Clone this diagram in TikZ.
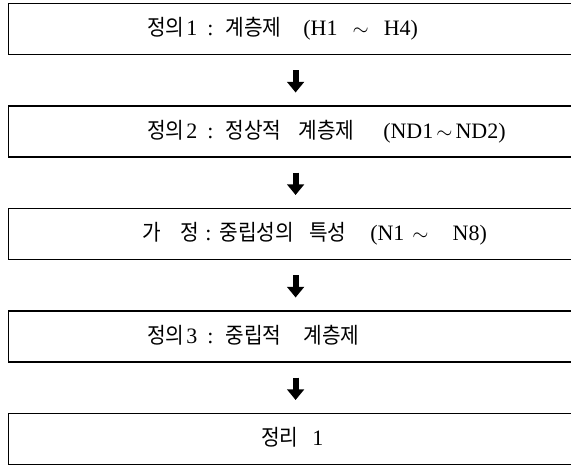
\documentclass[tikz,border=0pt]{standalone}
\usepackage{fontspec}
\setmainfont{Liberation Serif}
\newfontfamily\kr[FakeStretch=0.92]{Noto Sans CJK KR}
\usetikzlibrary{arrows.meta}
\tikzset{
  box/.style={draw, line width=1.2pt, minimum width=574pt, minimum height=51pt, inner sep=0pt, anchor=north west},
  lbl/.style={inner sep=0pt, anchor=base west, font=\fontsize{22}{26}\selectfont},
  fat/.style={line width=6pt, -{Triangle[width=16.6pt,length=10.6pt]}, shorten <=15pt, shorten >=13pt},
}
\newcommand{\K}[1]{{\kr\fontsize{22}{24}\selectfont #1}}
\newcommand{\hs}[1]{\hspace*{#1pt}}
\begin{document}
\begin{tikzpicture}[x=1pt,y=-1pt]
\useasboundingbox (0,0) rectangle (571,465);
\node[box] (b1) at (8,3) {};
\node[box] (b2) at (8,105.5) {};
\node[box] (b3) at (8,208) {};
\node[box] (b4) at (8,310.5) {};
\node[box] (b5) at (8,413) {};
\node[lbl] (t1) at (147,36) {\K{정의}\hs{2}1\hs{10}:\hs{12}\K{계층제}\hs{22}(H1\hs{15}$\sim$\hs{15}H4)};
\node[lbl] (t2) at (147,138.5) {\K{정의}\hs{2}2\hs{10}:\hs{12}\K{정상적}\hs{17}\K{계층제}\hs{29}(ND1\hs{3}$\sim$\hs{3}ND2)};
\node[lbl] (t3) at (142,241) {\K{가}\hs{20}\K{정}\hs{6}:\hs{8}\K{중립성의}\hs{15}\K{특성}\hs{24}(N1\hs{8}$\sim$\hs{24}N8)};
\node[lbl] (t4) at (147,343.5) {\K{정의}\hs{2}3\hs{10}:\hs{12}\K{중립적}\hs{22}\K{계층제}};
\node[lbl] (t5) at (261,446) {\K{정리}\hs{14}1};
\draw[fat] (b1.south) -- (b2.north);
\draw[fat] (b2.south) -- (b3.north);
\draw[fat] (b3.south) -- (b4.north);
\draw[fat] (b4.south) -- (b5.north);
\end{tikzpicture}
\end{document}
